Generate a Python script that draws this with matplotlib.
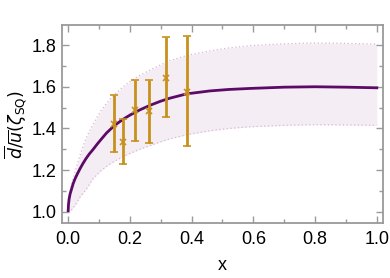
"""Light-antiquark flavour asymmetry dbar/ubar vs x."""

import matplotlib

matplotlib.use("Agg")
import matplotlib.pyplot as plt
from matplotlib.ticker import MultipleLocator

# model curve and its uncertainty band
x_curve = [0.0, 0.001, 0.003, 0.006, 0.011, 0.016, 0.022, 0.03, 0.038, 0.047,
           0.057, 0.068, 0.081, 0.094, 0.108, 0.124, 0.141, 0.159, 0.178, 0.2,
           0.232, 0.265, 0.3, 0.329, 0.384, 0.459, 0.52, 0.59, 0.7, 0.8, 0.9, 1.0]
ratio_curve = [1.006, 1.035, 1.062, 1.085, 1.11, 1.135, 1.158, 1.183, 1.206, 1.23,
               1.254, 1.277, 1.30, 1.325, 1.35, 1.378, 1.402, 1.424, 1.444, 1.464,
               1.489, 1.511, 1.531, 1.545, 1.566, 1.580, 1.587, 1.592, 1.598, 1.60,
               1.598, 1.595]
band_upper = [1.01, 1.04, 1.07, 1.10, 1.13, 1.16, 1.19, 1.23, 1.27, 1.31,
              1.35, 1.385, 1.42, 1.455, 1.49, 1.52, 1.55, 1.575, 1.60, 1.625,
              1.655, 1.68, 1.705, 1.725, 1.75, 1.772, 1.786, 1.797, 1.806, 1.81,
              1.808, 1.805]
band_lower = [1.0, 1.0, 1.0, 1.005, 1.01, 1.02, 1.03, 1.05, 1.07, 1.088,
              1.105, 1.13, 1.16, 1.18, 1.20, 1.218, 1.235, 1.25, 1.265, 1.28,
              1.30, 1.318, 1.336, 1.35, 1.37, 1.389, 1.40, 1.408, 1.415, 1.418,
              1.417, 1.415]

# experimental points with asymmetric errors
x_data = [0.147, 0.179, 0.217, 0.263, 0.316, 0.384]
ratio_data = [1.421, 1.333, 1.489, 1.482, 1.644, 1.576]
err_high = [1.561, 1.445, 1.633, 1.633, 1.839, 1.844]
err_low = [1.286, 1.231, 1.341, 1.332, 1.456, 1.314]

PURPLE = "#5c0a66"
BAND = "#f4eef4"
BAND_EDGE = "#d9b6da"
GOLD = "#c8901c"
FRAME = "#9a9a9a"

plt.rcParams["font.family"] = ["Liberation Sans", "DejaVu Sans"]
plt.rcParams["mathtext.fontset"] = "dejavusans"

fig = plt.figure(figsize=(3.9, 2.78), dpi=100)
ax = fig.add_axes([0.159, 0.198, 0.823, 0.712])

ax.fill_between(x_curve, band_lower, band_upper, color=BAND, lw=0, zorder=1)
ax.plot(x_curve, band_upper, color=BAND_EDGE, lw=0.9, ls=(0, (1, 2)), zorder=2)
ax.plot(x_curve, band_lower, color=BAND_EDGE, lw=0.9, ls=(0, (1, 2)), zorder=2)
ax.plot(x_curve, ratio_curve, color=PURPLE, lw=2.0, zorder=3)

yerr = [[r - lo for r, lo in zip(ratio_data, err_low)],
        [hi - r for r, hi in zip(ratio_data, err_high)]]
ax.errorbar(x_data, ratio_data, yerr=yerr, fmt="x", color=GOLD, ms=5, mew=1.2,
            elinewidth=2.0, capsize=3, capthick=1.6, zorder=4)

ax.set_xlim(-0.02, 1.02)
ax.set_ylim(0.947, 1.896)
ax.xaxis.set_major_locator(MultipleLocator(0.2))
ax.xaxis.set_minor_locator(MultipleLocator(0.1))
ax.yaxis.set_major_locator(MultipleLocator(0.2))
ax.yaxis.set_minor_locator(MultipleLocator(0.1))

for side in ax.spines.values():
    side.set_color(FRAME)
    side.set_linewidth(1.3)
ax.tick_params(which="both", direction="in", top=True, right=True,
               color=FRAME, width=1.0, labelsize=13, labelcolor="black")
ax.tick_params(which="major", length=5)
ax.tick_params(which="minor", length=3)
ax.tick_params(axis="x", pad=6)
ax.tick_params(axis="y", pad=4)

ax.set_xlabel("x", fontsize=13, labelpad=6)
ax.set_ylabel(r"$\overline{d}/\overline{u}(\zeta_{\rm SQ})$", fontsize=12.5, labelpad=2)

fig.savefig("out.png", dpi=100)
